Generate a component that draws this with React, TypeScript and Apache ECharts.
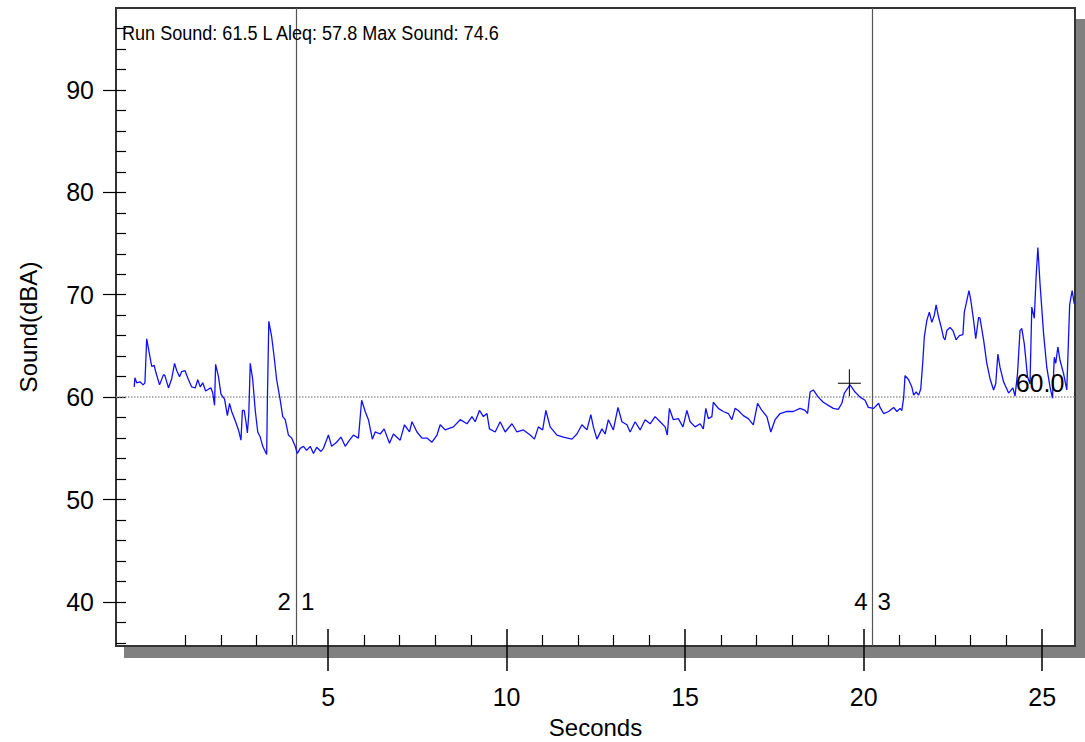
import React, { useEffect, useRef } from "react";
import * as echarts from "echarts";

// Sample times (seconds) and sound level (dBA)
const times = [
  -0.43, -0.41, -0.36, -0.27, -0.18, -0.13, -0.08, 0.06, 0.13, 0.17, 0.28, 0.39, 0.43, 0.53, 0.62, 0.7, 0.76, 0.84, 0.9, 0.99,
  1.09, 1.18, 1.28, 1.35, 1.42, 1.49, 1.57, 1.66, 1.72, 1.77, 1.82, 1.85, 1.93, 2.0, 2.1, 2.18, 2.24, 2.3, 2.4, 2.49,
  2.56, 2.6, 2.65, 2.7, 2.74, 2.78, 2.82, 2.89, 2.96, 3.03, 3.1, 3.17, 3.24, 3.28, 3.3, 3.34, 3.42, 3.49, 3.56, 3.66,
  3.73, 3.8, 3.89, 3.98, 4.08, 4.14, 4.22, 4.31, 4.4, 4.5, 4.59, 4.68, 4.8, 4.87, 5.01, 5.1, 5.24, 5.36, 5.48, 5.6,
  5.71, 5.85, 5.94, 6.04, 6.13, 6.24, 6.32, 6.46, 6.57, 6.72, 6.83, 6.92, 7.02, 7.14, 7.28, 7.35, 7.49, 7.63, 7.77, 7.91,
  8.05, 8.14, 8.28, 8.51, 8.7, 8.89, 9.03, 9.12, 9.24, 9.35, 9.45, 9.52, 9.68, 9.82, 9.96, 10.15, 10.29, 10.47, 10.66, 10.78,
  10.89, 11.01, 11.1, 11.22, 11.41, 11.59, 11.83, 11.97, 12.11, 12.25, 12.36, 12.43, 12.53, 12.67, 12.76, 12.85, 12.99, 13.12, 13.23, 13.37,
  13.46, 13.6, 13.74, 13.88, 14.02, 14.16, 14.3, 14.44, 14.5, 14.56, 14.67, 14.81, 14.94, 15.05, 15.14, 15.28, 15.42, 15.51, 15.58, 15.65,
  15.75, 15.79, 15.93, 16.07, 16.21, 16.31, 16.4, 16.49, 16.63, 16.77, 16.91, 17.03, 17.15, 17.29, 17.4, 17.52, 17.66, 17.85, 18.03, 18.22,
  18.36, 18.43, 18.5, 18.59, 18.73, 18.87, 19.01, 19.15, 19.29, 19.39, 19.46, 19.62, 19.76, 19.9, 20.04, 20.13, 20.28, 20.42, 20.46, 20.56,
  20.7, 20.84, 20.93, 21.02, 21.07, 21.12, 21.16, 21.26, 21.35, 21.4, 21.47, 21.54, 21.6, 21.66, 21.7, 21.77, 21.84, 21.91, 21.98, 22.03,
  22.1, 22.16, 22.24, 22.28, 22.33, 22.42, 22.5, 22.59, 22.68, 22.78, 22.82, 22.87, 22.95, 23.0, 23.08, 23.14, 23.22, 23.26, 23.36, 23.45,
  23.54, 23.64, 23.7, 23.76, 23.82, 23.92, 24.06, 24.18, 24.24, 24.31, 24.38, 24.43, 24.5, 24.59, 24.66, 24.71, 24.78, 24.83, 24.88, 24.94,
  25.04, 25.13, 25.22, 25.29, 25.34, 25.38, 25.44, 25.5, 25.6, 25.69, 25.77, 25.84, 25.9,
];
const sound = [
  61.0, 61.9, 61.4, 61.5, 61.2, 61.4, 65.7, 63.0, 63.1, 62.5, 61.2, 62.2, 62.1, 60.9, 61.8, 63.3, 62.6, 62.0, 62.5, 62.6,
  61.7, 61.0, 60.9, 61.7, 61.0, 61.4, 60.6, 60.8, 60.9, 60.4, 59.2, 63.2, 62.0, 60.3, 59.8, 58.2, 59.4, 58.6, 57.7, 56.8,
  55.8, 58.7, 58.7, 57.6, 56.5, 58.4, 63.3, 61.7, 58.7, 56.6, 56.1, 55.2, 54.7, 54.4, 59.7, 67.4, 65.9, 63.9, 61.7, 59.7,
  58.1, 57.8, 56.3, 56.0, 55.2, 54.5, 55.0, 55.2, 54.8, 55.2, 54.5, 55.1, 54.7, 55.0, 56.3, 55.2, 55.6, 56.1, 55.2, 55.8,
  56.3, 56.0, 59.7, 58.6, 57.8, 55.9, 56.6, 56.4, 56.9, 55.5, 56.4, 56.1, 55.8, 57.3, 56.6, 57.6, 56.6, 56.0, 56.0, 55.6,
  56.3, 57.3, 56.8, 57.1, 57.8, 57.4, 58.1, 57.6, 58.7, 58.1, 58.4, 56.9, 56.6, 57.6, 56.6, 57.4, 56.6, 56.8, 56.3, 55.9,
  57.1, 56.8, 58.7, 57.1, 56.3, 56.1, 55.9, 56.4, 57.3, 56.8, 58.3, 57.1, 55.9, 56.9, 56.4, 57.8, 56.8, 59.0, 57.6, 57.3,
  56.6, 57.6, 56.8, 57.8, 57.4, 58.1, 57.6, 57.1, 56.3, 58.9, 57.8, 57.9, 57.1, 58.7, 57.6, 57.1, 57.4, 56.9, 58.9, 57.9,
  58.1, 59.5, 58.9, 58.6, 58.4, 57.8, 58.9, 58.7, 58.2, 57.9, 57.3, 59.4, 58.7, 58.1, 56.6, 57.8, 58.4, 58.6, 58.6, 58.9,
  58.7, 58.4, 60.5, 60.7, 60.0, 59.5, 59.2, 58.9, 58.8, 59.4, 60.4, 61.2, 60.5, 60.0, 59.7, 59.0, 58.9, 59.4, 59.0, 58.4,
  58.6, 59.0, 58.6, 58.9, 58.7, 59.9, 62.1, 61.7, 61.0, 60.2, 60.5, 60.2, 60.8, 63.6, 65.9, 67.5, 68.3, 67.3, 68.0, 69.0,
  67.8, 67.0, 65.8, 65.6, 66.5, 66.8, 66.5, 65.6, 66.0, 66.1, 68.3, 69.1, 70.4, 69.5, 67.5, 65.7, 67.8, 67.7, 65.6, 63.3,
  61.8, 60.7, 61.3, 64.2, 62.9, 61.5, 60.4, 60.9, 60.1, 62.3, 66.5, 66.7, 65.2, 62.0, 61.3, 68.8, 67.7, 71.7, 74.6, 71.1,
  66.2, 62.9, 61.0, 59.9, 63.9, 63.3, 64.9, 63.6, 62.3, 60.7, 69.0, 70.4, 69.1,
];

const xLabelValues = [5, 10, 15, 20, 25];
const xMinorTicks = [1, 2, 3, 4, 6, 7, 8, 9, 11, 12, 13, 14, 16, 17, 18, 19, 21, 22, 23, 24];
const yLabelValues = [40, 50, 60, 70, 80, 90];
const yMinorTicks = [36, 38, 40, 42, 44, 46, 48, 50, 52, 54, 56, 58, 60, 62, 64, 66, 68, 70, 72, 74, 76, 78, 80, 82, 84, 86, 88, 90, 92, 94, 96];

const cursorTimes = [4.1, 20.25];
const cursorLeftLabels = ["2", "4"];
const cursorRightLabels = ["1", "3"];
const cursorLabelLevel = 40;
const refLevel = 60;
const refLabel = "60.0";
const refLabelPos = [24.94, 61.4];
const markerPoint = [19.6, 61.4];
const summaryText = "Run Sound: 61.5 L Aleq: 57.8 Max Sound: 74.6";

const X_MIN = -0.94;
const X_MAX = 25.92;
const Y_MIN = 35.7;
const Y_MAX = 98;

const FONT = "'Liberation Sans', Arial, sans-serif";

export default function App() {
  const ref = useRef<HTMLDivElement>(null);
  useEffect(() => {
    if (!ref.current) return;
    const chart = echarts.init(ref.current, null, { renderer: "svg" });
    const lineData = times.map((t, i) => [t, sound[i]]);
    const cursorLabelData: any[] = [];
    cursorTimes.forEach((t, i) => {
      cursorLabelData.push({
        value: [t, cursorLabelLevel],
        label: { show: true, position: "left", distance: 5, formatter: cursorLeftLabels[i], color: "#000" },
      });
      cursorLabelData.push({
        value: [t, cursorLabelLevel],
        label: { show: true, position: "right", distance: 5, formatter: cursorRightLabels[i], color: "#000" },
      });
    });

    const baseX = { type: "value", min: X_MIN, max: X_MAX, position: "bottom", splitLine: { show: false } };
    const baseY = { type: "value", min: Y_MIN, max: Y_MAX, position: "left", splitLine: { show: false } };

    chart.setOption({
      animation: false,
      backgroundColor: "#ffffff",
      grid: {
        left: 116,
        top: 8,
        width: 959,
        height: 638,
        show: true,
        borderColor: "#333333",
        borderWidth: 2,
        backgroundColor: "#ffffff",
        containLabel: false,
        outerBoundsMode: "none",
      },
      graphic: [
        { type: "rect", z: -10, shape: { x: 124, y: 647, width: 961, height: 11 }, style: { fill: "#808080" } },
        { type: "rect", z: -10, shape: { x: 1076, y: 19, width: 9, height: 630 }, style: { fill: "#808080" } },
        {
          type: "text",
          x: 122,
          y: 22,
          scaleX: 0.86,
          z: 100,
          style: { text: summaryText, fontSize: 21, fontFamily: FONT, fill: "#000" },
        },
      ],
      xAxis: [
        {
          ...baseX,
          axisLine: { show: true, onZero: false, lineStyle: { color: "#333333", width: 2 } },
          axisTick: { show: true, inside: false, length: 25, customValues: xLabelValues, lineStyle: { color: "#000", width: 1.5 } },
          axisLabel: { show: true, customValues: xLabelValues, margin: 38, fontSize: 25, color: "#000", fontFamily: FONT },
          name: "Seconds",
          nameLocation: "middle",
          nameGap: 69,
          nameTextStyle: { fontSize: 24, color: "#000", fontFamily: FONT },
        },
        {
          ...baseX,
          axisLine: { show: false, onZero: false },
          axisTick: { show: true, inside: true, length: 17, customValues: xLabelValues, lineStyle: { color: "#000", width: 1.5 } },
          axisLabel: { show: false },
        },
        {
          ...baseX,
          axisLine: { show: false, onZero: false },
          axisTick: { show: true, inside: true, length: 11, customValues: xMinorTicks, lineStyle: { color: "#000", width: 1.2 } },
          axisLabel: { show: false },
        },
      ],
      yAxis: [
        {
          ...baseY,
          axisLine: { show: true, onZero: false, lineStyle: { color: "#333333", width: 2 } },
          axisTick: { show: true, inside: false, length: 13, customValues: yLabelValues, lineStyle: { color: "#000", width: 1.2 } },
          axisLabel: { show: true, customValues: yLabelValues, margin: 22, fontSize: 25, color: "#000", fontFamily: FONT },
          name: "Sound(dBA)",
          nameLocation: "middle",
          nameGap: 76,
          nameRotate: 90,
          nameTextStyle: { fontSize: 24, color: "#000", fontFamily: FONT },
        },
        {
          ...baseY,
          axisLine: { show: false, onZero: false },
          axisTick: { show: true, inside: true, length: 10, customValues: yMinorTicks, lineStyle: { color: "#000", width: 1.2 } },
          axisLabel: { show: false },
        },
      ],
      series: [
        {
          type: "line",
          xAxisIndex: 0,
          yAxisIndex: 0,
          data: lineData,
          showSymbol: false,
          symbol: "none",
          lineStyle: { color: "#1010ff", width: 1.3 },
          z: 5,
          markLine: {
            silent: true,
            symbol: "none",
            label: { show: false },
            data: [
              { yAxis: refLevel, lineStyle: { color: "#999999", type: "dotted", width: 1.5 } },
              ...cursorTimes.map((t) => ({ xAxis: t, lineStyle: { color: "#555555", type: "solid", width: 1.2 } })),
            ],
          },
        },
        {
          type: "scatter",
          xAxisIndex: 0,
          yAxisIndex: 0,
          symbolSize: 0,
          itemStyle: { opacity: 1 },
          data: cursorLabelData,
          label: { show: true, fontSize: 24, color: "#000", fontFamily: FONT, opacity: 1 },
          z: 6,
        },
        {
          type: "scatter",
          xAxisIndex: 0,
          yAxisIndex: 0,
          symbolSize: 0,
          itemStyle: { opacity: 1 },
          data: [{ value: refLabelPos, label: { show: true, position: "inside", formatter: refLabel, color: "#000" } }],
          label: { fontSize: 25, color: "#000", fontFamily: FONT, opacity: 1 },
          z: 6,
        },
        {
          type: "scatter",
          xAxisIndex: 0,
          yAxisIndex: 0,
          symbol: "path://M0,13.5h23v1h-23z M11,0h1v27h-1z",
          symbolSize: [23, 27],
          itemStyle: { color: "#000", opacity: 1 },
          data: [markerPoint],
          z: 7,
        },
      ],
    });
    return () => chart.dispose();
  }, []);
  return (
    <div
      ref={ref}
      style={{ position: "fixed", left: 0, top: 0, width: 1085, height: 742, background: "#fff" }}
    />
  );
}
